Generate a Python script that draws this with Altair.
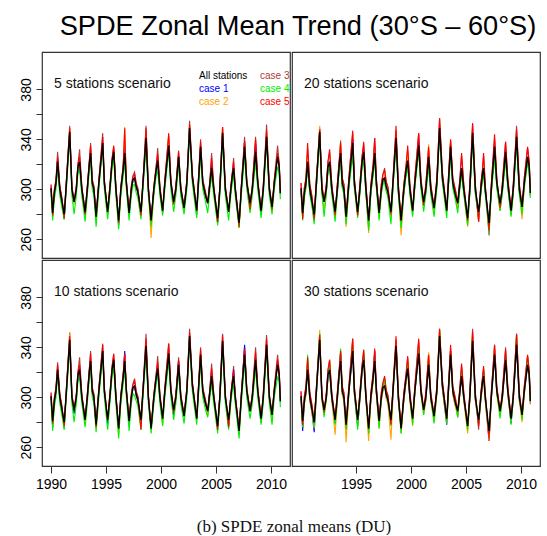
import altair as alt
import pandas as pd

TITLE = "SPDE Zonal Mean Trend (30°S – 60°S)"
CAPTION = "(b) SPDE zonal means (DU)"
PANELS = ["5 stations scenario", "20 stations scenario",
          "10 stations scenario", "30 stations scenario"]
SERIES = ["All stations", "case 1", "case 2", "case 3", "case 4", "case 5"]
COLORS = ["#000000", "#0000FF", "#FFA500", "#B23A3A", "#00EE00", "#FF0000"]
X_TICKS_LEFT = [1990, 1995, 2000, 2005, 2010]
X_TICKS_RIGHT = [1995, 2000, 2005, 2010]
Y_TICKS = [260, 280, 300, 320, 340, 360, 380]

# "All stations" zonal mean (DU) (same in every panel)
ALL_T = [1990.00, 1990.15, 1990.30, 1990.45, 1990.60, 1990.80,
         1991.00, 1991.20, 1991.40, 1991.70, 1991.90,
         1992.10, 1992.30, 1992.45, 1992.60, 1992.80,
         1993.10, 1993.30, 1993.50, 1993.60, 1993.75, 1993.90,
         1994.10, 1994.35, 1994.70, 1994.85,
         1995.15, 1995.35, 1995.55, 1995.70, 1995.90,
         1996.15, 1996.35, 1996.55, 1996.70, 1996.85,
         1997.10, 1997.30, 1997.45, 1997.60, 1997.75, 1997.90,
         1998.18, 1998.40, 1998.64, 1998.85,
         1999.10, 1999.35, 1999.55, 1999.70, 1999.90,
         2000.15, 2000.35, 2000.70, 2000.90,
         2001.15, 2001.35, 2001.60, 2001.80,
         2002.10, 2002.35, 2002.60, 2002.85,
         2003.25, 2003.40, 2003.60, 2003.80,
         2004.05, 2004.25, 2004.45, 2004.60, 2004.80,
         2005.15, 2005.35, 2005.60, 2005.85,
         2006.15, 2006.35, 2006.50, 2006.60, 2006.75,
         2007.10, 2007.30, 2007.60, 2007.80,
         2008.10, 2008.30, 2008.60, 2008.80,
         2009.10, 2009.30, 2009.60, 2009.85,
         2010.10, 2010.30, 2010.60, 2010.75, 2010.85]
ALL_V = [301, 281, 297, 305, 322, 300,
         290, 280, 305, 346, 300,
         290, 300, 318, 322, 300,
         282, 300, 322, 329, 305, 300,
         278, 305, 337, 305,
         282, 300, 322, 330, 300,
         275, 300, 315, 329, 305,
         281, 300, 308, 309, 302, 298,
         282, 310, 341, 300,
         275, 300, 315, 323, 300,
         283, 305, 335, 305,
         290, 300, 326, 300,
         285, 305, 349, 310,
         283, 305, 334, 305,
         295, 289, 305, 317, 300,
         277, 300, 345, 300,
         282, 300, 312, 317, 300,
         273, 300, 334, 305,
         289, 300, 330, 305,
         283, 300, 342, 300,
         286, 305, 326, 318, 297]

# Per-case departures from "All stations" at each year's peak / trough (DU), per panel
PEAK = {
    0: {"case 1": [2, 0, 0, 3, 0, 2, 5, 0, 0, -2, 0, 0, 0, 0, 3, 0, 0, 4, 6, 0, 2],
        "case 2": [0, 3, -3, 5, 0, 3, 21, 0, -3, 0, 5, 0, 2, 0, 0, 5, -2, 3, 0, 0, 3],
        "case 3": [8, 5, 10, 8, 8, 4, 10, 5, 10, 10, 8, 5, 6, 6, 12, 5, 8, 8, 12, 10, 9],
        "case 4": [-5, -3, -6, -5, -2, -5, -8, -5, -5, -8, -4, -6, -3, -7, -6, -5, -5, -7, -8, -5, -8],
        "case 5": [4, 3, 4, 6, 5, 5, 20, 3, 8, 5, 10, 4, 3, 4, 8, 5, 5, 4, 10, 5, 3]},
    1: {"case 1": [0, 2, 0, 0, 3, 0, 5, 0, 0, 0, 3, 0, 0, 2, 0, 0, 3, 0, 0, 0, 0],
        "case 2": [3, 5, -3, 8, 0, 0, 5, 3, 3, 5, 0, 10, 0, 5, -3, 3, 3, 0, 0, 2, 0],
        "case 3": [10, 3, 8, 10, 8, 6, 12, 8, 6, 8, 10, 6, 8, 5, 10, 8, 10, 6, 8, 9, 7],
        "case 4": [-4, -6, -5, -8, -10, -8, -6, -4, -5, -6, -4, -8, -5, -8, -5, -6, -5, -9, -7, -6, -5],
        "case 5": [15, 2, 10, 8, 10, 8, 12, 6, 10, 12, 10, 8, 8, 6, 12, 8, 12, 10, 8, 6, 8]},
    2: {"case 1": [0, 0, 2, 0, 0, 0, 8, 0, 0, 0, 0, 3, 0, 0, 0, 0, 5, 8, 0, 0, 2],
        "case 2": [0, 5, 0, 0, 0, 0, 3, 0, 0, 0, 0, 0, 0, 3, 0, 0, 0, 0, 0, 0, 0],
        "case 3": [6, 6, 10, 8, 6, 4, 6, 6, 10, 10, 8, 6, 6, 6, 10, 6, 8, 6, 10, 8, 8],
        "case 4": [-4, -4, -6, -5, -4, -6, -7, -8, -6, -4, -6, -6, -4, -6, -6, -5, -8, -6, -7, -5, -10],
        "case 5": [4, 3, 4, 6, 5, 5, 6, 4, 6, 5, 8, 4, 3, 4, 6, 5, 4, 5, 6, 5, 4]},
    3: {"case 1": [3, 0, 0, 6, 0, 3, 8, 5, 0, 0, 3, 0, 0, 3, 0, 0, 3, 0, 0, 0, 0],
        "case 2": [5, 8, 5, 3, 8, 3, 5, 5, 0, 8, 5, 10, 5, 3, 5, 5, 3, 5, 3, 3, 6],
        "case 3": [8, 5, 8, 8, 10, 6, 8, 6, 5, 8, 10, 8, 6, 5, 8, 10, 6, 8, 10, 9, 7],
        "case 4": [12, 5, 5, 10, 5, 8, 5, 6, 3, 5, 3, 5, 5, 3, 5, 5, 5, 3, 5, 8, 6],
        "case 5": [10, 4, 8, 8, 10, 8, 10, 8, 8, 10, 12, 8, 6, 8, 10, 8, 8, 8, 8, 9, 8]},
}
TROUGH = {
    0: {"case 1": [-2, -4, 0, -3, 0, -2, -4, -2, 0, 0, -2, 0, 0, -3, 0, -4, 0, -2, 0, -3, 0],
        "case 2": [-3, 0, -2, 0, -3, -2, 0, 0, -3, -14, 0, -2, 0, -3, 0, 0, 0, -4, -3, 0, -2],
        "case 3": [0, -3, 0, 0, 0, 0, 0, 0, 0, 0, 0, 0, 0, 0, 0, 0, 0, 0, 0, 0, 0],
        "case 4": [-6, -4, -10, -8, -8, -6, -7, -6, -6, -5, -4, -8, -5, -6, -8, -6, -7, -4, -8, -6, -6],
        "case 5": [-2, -3, 0, -2, 0, 0, -2, 0, -3, 0, 0, -2, 0, 0, 0, -3, 0, -3, -5, 0, -2]},
    1: {"case 1": [-3, -5, 0, 0, -4, -2, -5, 0, -3, 0, 0, -2, 0, 0, -4, -3, -5, 0, -4, -3, 0],
        "case 2": [-4, 0, -6, -2, -8, -3, -10, -4, -4, -12, -3, -2, -3, 0, -4, -7, -8, -4, -6, -4, -10],
        "case 3": [0, -3, 0, -2, 0, 0, 0, 0, 0, 0, 0, 0, 0, 0, 0, 0, -8, -10, -6, 0, 0],
        "case 4": [-6, -8, -12, -8, -6, -5, -8, -6, -10, -6, -5, -8, -7, -6, -8, -6, -4, -8, -6, -5, -6],
        "case 5": [-5, -4, 0, -3, 0, -3, 0, 0, -2, 0, 0, -3, 0, 0, 0, -2, -8, -6, -4, 0, 0]},
    2: {"case 1": [-5, 0, -3, 0, 0, -4, 0, -3, 0, 0, 0, -4, 0, 0, 0, 0, -5, 0, 0, -3, 0],
        "case 2": [-3, -2, 0, -3, -2, 0, -4, 0, -5, 0, -5, 0, 0, 0, -4, 0, 0, -3, 0, 0, -4],
        "case 3": [0, -5, 0, 0, 0, 0, 0, 0, 0, 0, 0, 0, 0, 0, 0, 0, -5, 0, 0, 0, 0],
        "case 4": [-8, -6, -10, -6, -6, -8, -8, -8, -8, -4, -6, -8, -6, -5, -5, -6, -8, -6, -6, -5, -8],
        "case 5": [-2, -3, 0, 0, -2, 0, 0, 0, -8, 0, 0, -2, 0, 0, 0, -3, -6, 0, 0, 0, 0]},
    3: {"case 1": [-8, -8, 0, -3, -4, -5, 0, -3, -3, 0, 0, 0, 0, -5, 0, 0, -3, -8, 0, -4, 0],
        "case 2": [-5, -5, -4, -12, -14, -4, -10, -6, -16, -4, -6, -4, -5, -4, -4, -6, -3, -8, -4, -3, -6],
        "case 3": [-5, 0, -3, 0, 0, 0, -3, 0, 0, 0, 0, 0, 0, 0, -5, 0, -8, -8, 0, 0, 0],
        "case 4": [-5, -4, -6, -4, -3, -8, -4, -6, -5, -4, -5, -4, -6, -4, -5, -3, -4, -3, -6, -5, -4],
        "case 5": [-3, 0, -2, 0, 0, 0, 0, 0, -4, 0, 0, 0, 0, 0, 0, 0, -5, -6, 0, 0, 0]},
}
MID = {
    0: {"case 1": -1, "case 2": 0, "case 3": 3, "case 4": -5, "case 5": 2},
    1: {"case 1": -2, "case 2": -2, "case 3": 4, "case 4": -4, "case 5": 4},
    2: {"case 1": -1, "case 2": 0, "case 3": 3, "case 4": -5, "case 5": 2},
    3: {"case 1": -2, "case 2": -3, "case 3": 3, "case 4": 0, "case 5": 4},
}

FONT = "Liberation Sans, Arial, sans-serif"
SERIF = "Liberation Serif, DejaVu Serif, serif"
PW, PH = 248, 206
XS = alt.Scale(domain=[1989.18, 2011.73], nice=False, zero=False)
YS = alt.Scale(domain=[245, 410], nice=False, zero=False)

# index of each year's peak and trough point
year_pts = {}
for i, t in enumerate(ALL_T):
    year_pts.setdefault(int(t), []).append(i)
peak_idx, trough_idx = {}, {}
for y, idxs in year_pts.items():
    peak_idx[max(idxs, key=lambda k: ALL_V[k])] = y - 1990
    trough_idx[min(idxs, key=lambda k: ALL_V[k])] = y - 1990


def series_df(p, name):
    vals = []
    for i, v in enumerate(ALL_V):
        if name == "All stations":
            vals.append(v)
        elif i in peak_idx:
            vals.append(v + PEAK[p][name][peak_idx[i]])
        elif i in trough_idx:
            vals.append(v + TROUGH[p][name][trough_idx[i]])
        else:
            vals.append(v + MID[p][name])
    return pd.DataFrame({"t": ALL_T, "v": vals, "series": name})


def panel(p, show_x, show_y, xticks):
    xaxis = alt.Axis(values=xticks, format="d", title=None, grid=False, domain=False,
                     tickSize=7, tickColor="#333", labelFontSize=14, labelFont=FONT,
                     labelPadding=4, labelColor="#000", labelFlush=False) if show_x else None
    yaxis = alt.Axis(values=Y_TICKS, title=None, grid=False, domain=False, tickSize=6,
                     tickColor="#333", labelFontSize=14, labelFont=FONT, labelAngle=270,
                     labelAlign="center", labelBaseline="bottom", labelPadding=3,
                     labelColor="#000", minExtent=36, maxExtent=36,
                     labelExpr="datum.value % 40 == 20 ? datum.label : ''") if show_y else None
    layers = []
    for name in ["case 3", "case 1", "case 2", "case 4", "case 5", "All stations"]:
        col = COLORS[SERIES.index(name)]
        sw = 1.4 if name == "All stations" else 1.1
        layers.append(
            alt.Chart(series_df(p, name)).mark_line(color=col, strokeWidth=sw).encode(
                x=alt.X("t:Q", scale=XS, axis=xaxis),
                y=alt.Y("v:Q", scale=YS, axis=yaxis),
            )
        )
    layers.append(
        alt.Chart(pd.DataFrame({"label": [PANELS[p]]})).mark_text(
            align="left", baseline="alphabetic", fontSize=14, font=FONT, color="#111"
        ).encode(x=alt.value(12), y=alt.value(36), text="label:N")
    )
    if p == 0:
        pos = {"All stations": (157, 27), "case 1": (157, 40), "case 2": (157, 53),
               "case 3": (218, 27), "case 4": (218, 40), "case 5": (218, 53)}
        for name in SERIES:
            lx, ly = pos[name]
            layers.append(
                alt.Chart(pd.DataFrame({"label": [name]})).mark_text(
                    align="left", baseline="alphabetic", fontSize=10, font=FONT,
                    color=COLORS[SERIES.index(name)]
                ).encode(x=alt.value(lx), y=alt.value(ly), text="label:N")
            )
    return alt.layer(*layers).properties(width=PW, height=PH)


row1 = alt.hconcat(panel(0, False, True, X_TICKS_LEFT), panel(1, False, False, X_TICKS_RIGHT), spacing=0)
row2 = alt.hconcat(panel(2, True, True, X_TICKS_LEFT), panel(3, True, False, X_TICKS_RIGHT), spacing=0)
grid = alt.vconcat(row1, row2, spacing=0,
                   title=alt.TitleParams(CAPTION, orient="bottom", font=SERIF, fontSize=17,
                                         fontWeight="normal", anchor="middle", offset=27,
                                         dx=21, color="#111"))
chart = alt.vconcat(
    grid,
    title=alt.TitleParams(TITLE, font=FONT, fontSize=27.2, fontWeight="normal",
                          anchor="middle", offset=10, dx=25, color="#000"),
).configure(
    padding={"left": 5, "right": 4, "top": 13, "bottom": 0},
    background="white",
).configure_view(stroke="#333", strokeWidth=1.2)

chart.save("out.html", embed_options={"renderer": "svg", "actions": False})
